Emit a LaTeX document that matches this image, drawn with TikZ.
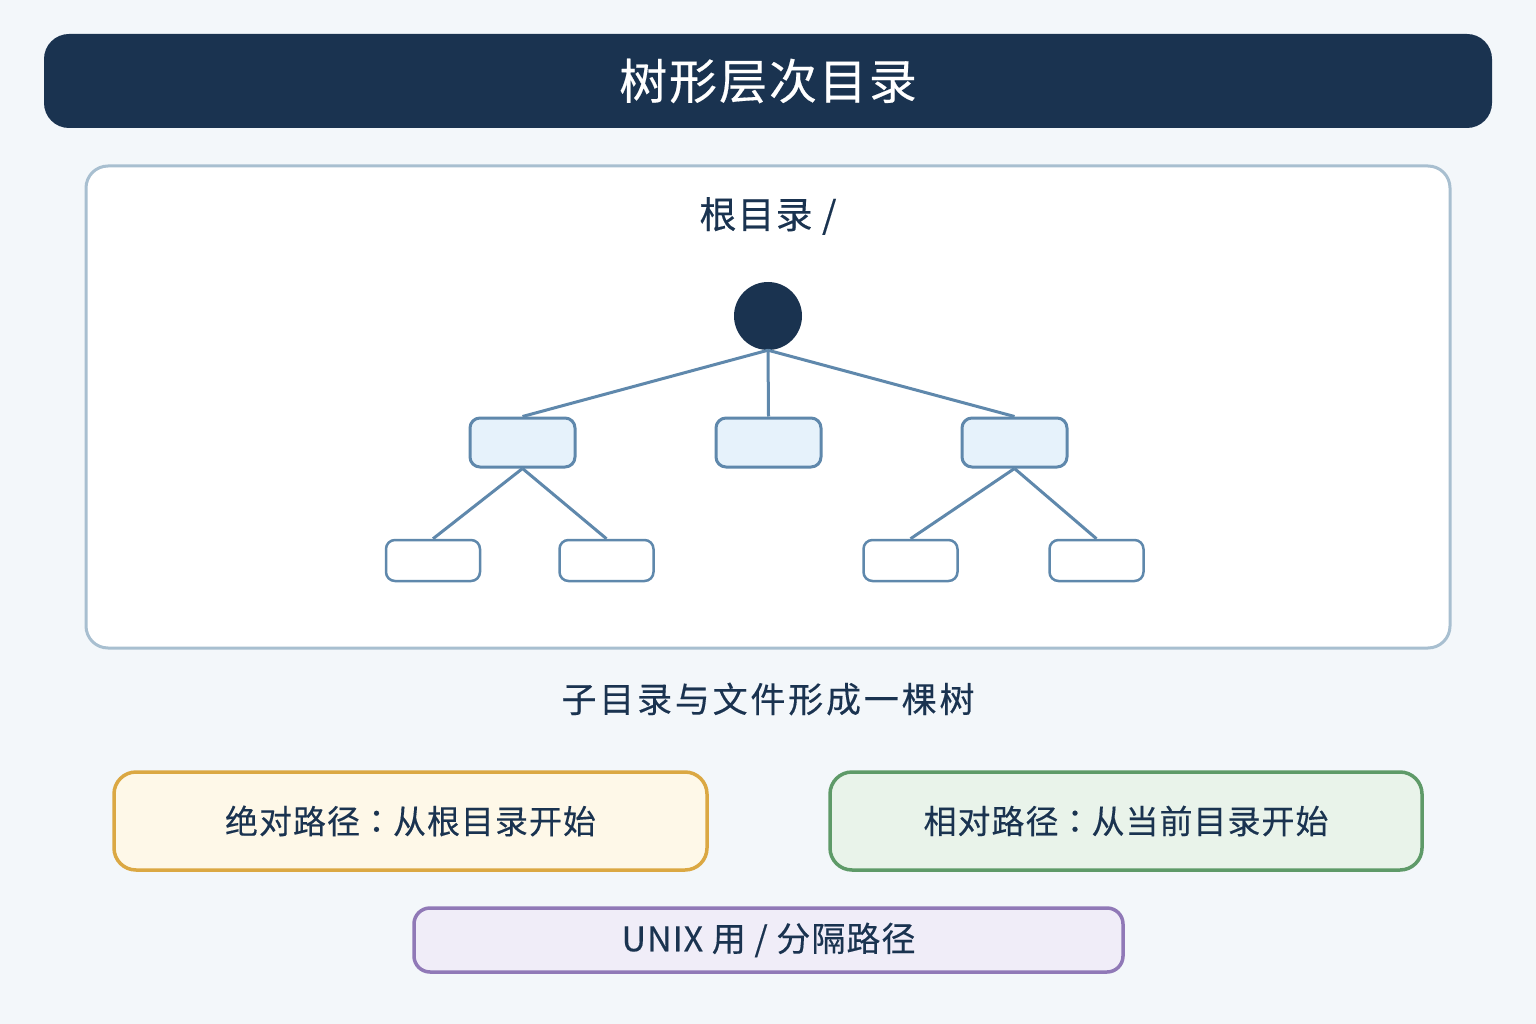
\documentclass[tikz,border=0pt]{standalone}
\usepackage{fontspec}
\setmainfont{Noto Sans CJK SC}
\newfontfamily\tcfont{Noto Sans CJK TC}
\newfontfamily\sptitle[LetterSpace=4,FakeBold=0.3]{Noto Sans CJK SC}
\newfontfamily\spcap[LetterSpace=8,FakeBold=0.3]{Noto Sans CJK SC}
\newfontfamily\spbox[LetterSpace=3,FakeBold=0.3]{Noto Sans CJK SC}
\newfontfamily\tcbox[LetterSpace=3,FakeBold=0.3]{Noto Sans CJK TC}
\definecolor{bgc}{HTML}{F3F7FA}
\definecolor{navy}{HTML}{1A3350}
\definecolor{panelline}{HTML}{A8BFD0}
\definecolor{treeline}{HTML}{5F88AC}
\definecolor{midfill}{HTML}{E6F2FB}
\definecolor{yfill}{HTML}{FEF8E8}
\definecolor{yline}{HTML}{DBA843}
\definecolor{gfill}{HTML}{E9F3EA}
\definecolor{gline}{HTML}{5E9A68}
\definecolor{pfill}{HTML}{F0EDF8}
\definecolor{pline}{HTML}{9079B7}
\tikzset{
  midbox/.style={draw=treeline, fill=midfill, line width=3pt, rounded corners=10pt, minimum width=105pt, minimum height=49pt, inner sep=0pt},
  leafbox/.style={draw=treeline, fill=white, line width=2.5pt, rounded corners=9pt, minimum width=94pt, minimum height=41pt, inner sep=0pt},
  edge/.style={draw=treeline, line width=3pt},
  txt/.style={text=navy, inner sep=0pt}
}
\begin{document}
\begin{tikzpicture}[x=1pt,y=-1pt]
\useasboundingbox (0,0) rectangle (1536,1024);
\fill[bgc] (0,0) rectangle (1536,1024);
% title
\node[fill=navy, rounded corners=25pt, minimum width=1448pt, minimum height=94pt, inner sep=0pt] (title) at (768,81) {};
\node[text=white, inner sep=0pt, font=\sptitle\fontsize{48}{52}\selectfont] (titletxt) at (768,81) {树形层次目录};
% panel
\node[draw=panelline, fill=white, line width=3pt, rounded corners=22pt, minimum width=1364pt, minimum height=482pt, inner sep=0pt] (panel) at (768,407) {};
\node[txt, font=\spbox\fontsize{37}{40}\selectfont] (roottxt) at (768,216) {根目录 /};
% tree
\node[circle, fill=navy, minimum size=68pt, inner sep=0pt] (root) at (768,316) {};
\node[midbox] (m1) at (522.5,442.5) {};
\node[midbox] (m2) at (768.5,442.5) {};
\node[midbox] (m3) at (1014.5,442.5) {};
\node[leafbox] (l1) at (433,560.5) {};
\node[leafbox] (l2) at (606.5,560.5) {};
\node[leafbox] (l3) at (910.5,560.5) {};
\node[leafbox] (l4) at (1096.5,560.5) {};
\draw[edge] (root.south) -- (m1.north);
\draw[edge] (root.south) -- (m2.north);
\draw[edge] (root.south) -- (m3.north);
\draw[edge] (m1.south) -- (l1.north);
\draw[edge] (m1.south) -- (l2.north);
\draw[edge] (m3.south) -- (l3.north);
\draw[edge] (m3.south) -- (l4.north);
% caption
\node[txt, font=\spcap\fontsize{35}{38}\selectfont] (cap) at (768,699) {子目录与文件形成一棵树};
% bottom boxes
\node[draw=yline, fill=yfill, line width=3.5pt, rounded corners=22pt, minimum width=593pt, minimum height=98pt, inner sep=0pt] (abs) at (410.5,821) {};
\node[txt, font=\spbox\fontsize{33}{36}\selectfont] (abstxt) at (410.5,821) {绝对路径{\tcbox ：}从根目录开始};
\node[draw=gline, fill=gfill, line width=3.5pt, rounded corners=22pt, minimum width=592pt, minimum height=98pt, inner sep=0pt] (rel) at (1126,821) {};
\node[txt, font=\spbox\fontsize{33}{36}\selectfont] (reltxt) at (1126,821) {相对路径{\tcbox ：}从当前目录开始};
\node[draw=pline, fill=pfill, line width=3.5pt, rounded corners=16pt, minimum width=709pt, minimum height=64pt, inner sep=0pt] (unix) at (768.5,940) {};
\node[txt, font=\spbox\fontsize{34}{37}\selectfont] (unixtxt) at (768.5,940) {UNIX 用 / 分隔路径};
\end{tikzpicture}
\end{document}
